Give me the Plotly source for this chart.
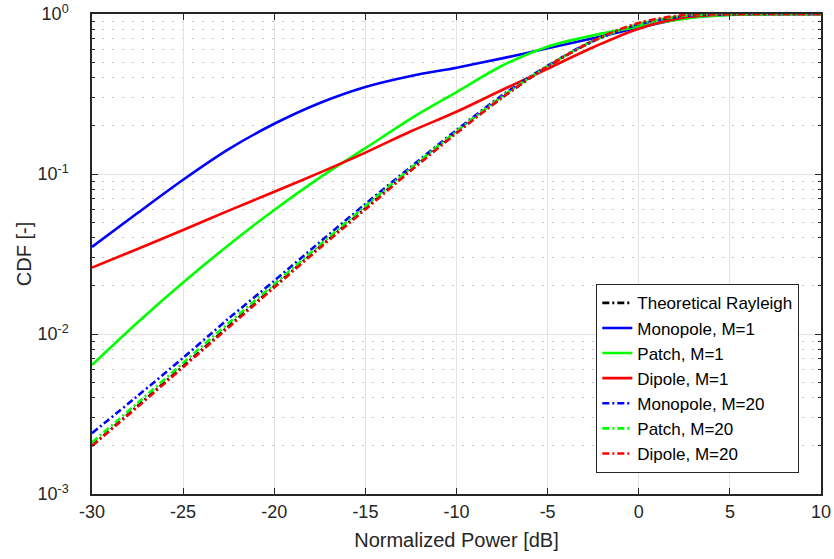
import plotly.graph_objects as go

x_db = [-30, -27.5, -25, -22.5, -20, -17.5, -15, -12.5, -10, -7.5, -5, -2.5, 0, 2.5, 5, 7.5, 10]

theory = [0.0020, 0.00355, 0.0063, 0.0112, 0.0198, 0.035, 0.061, 0.106, 0.181, 0.30, 0.469, 0.675, 0.865, 0.972, 0.998, 1.0, 1.0]
mono1 = [0.035, 0.057, 0.092, 0.143, 0.206, 0.278, 0.35, 0.41, 0.462, 0.528, 0.61, 0.705, 0.82, 0.94, 0.99, 1.0, 1.0]
patch1 = [0.0064, 0.0118, 0.021, 0.036, 0.0596, 0.095, 0.145, 0.222, 0.325, 0.475, 0.625, 0.735, 0.835, 0.935, 0.985, 0.997, 1.0]
dipole1 = [0.026, 0.034, 0.0447, 0.059, 0.0775, 0.102, 0.136, 0.185, 0.245, 0.335, 0.455, 0.62, 0.81, 0.95, 0.995, 1.0, 1.0]
mono20 = [0.0024, 0.0041, 0.0071, 0.0125, 0.0215, 0.0375, 0.065, 0.111, 0.188, 0.31, 0.475, 0.68, 0.86, 0.97, 0.997, 1.0, 1.0]
patch20 = [0.0021, 0.0037, 0.0066, 0.0117, 0.0205, 0.036, 0.063, 0.109, 0.185, 0.305, 0.472, 0.678, 0.865, 0.975, 0.998, 1.0, 1.0]
dipole20 = [0.0020, 0.0035, 0.0062, 0.0110, 0.0195, 0.0345, 0.060, 0.105, 0.180, 0.30, 0.47, 0.68, 0.88, 0.985, 0.999, 1.0, 1.0]

x_ticks = [-30, -25, -20, -15, -10, -5, 0, 5, 10]
x_tick_text = ["-30", "-25", "-20", "-15", "-10", "-5", "0", "5", "10"]
y_ticks = [1e-3, 1e-2, 1e-1, 1]
y_tick_text = ["10<sup>-3</sup>", "10<sup>-2</sup>", "10<sup>-1</sup>", "10<sup>0</sup>"]
y_minor = [m * 10 ** e for e in (-3, -2, -1) for m in range(2, 10)]

dd = "7px,3px,2px,3px"
series = [
    ("Theoretical Rayleigh", theory, "black", dd),
    ("Monopole, M=1", mono1, "rgb(0,0,255)", "solid"),
    ("Patch, M=1", patch1, "rgb(0,255,0)", "solid"),
    ("Dipole, M=1", dipole1, "rgb(255,0,0)", "solid"),
    ("Monopole, M=20", mono20, "rgb(0,0,255)", dd),
    ("Patch, M=20", patch20, "rgb(0,255,0)", dd),
    ("Dipole, M=20", dipole20, "rgb(255,0,0)", dd),
]

fig = go.Figure()
for name, vals, col, dash in series:
    fig.add_trace(go.Scatter(x=x_db, y=vals, name=name, mode="lines",
                             line=dict(color=col, width=2.6, dash=dash, shape="spline", smoothing=0.9)))

font = "Liberation Sans, Arial, Helvetica, sans-serif"
fig.update_layout(
    width=834, height=559,
    margin=dict(l=92, r=13, t=14, b=65, autoexpand=False),
    paper_bgcolor="white", plot_bgcolor="white",
    font=dict(family=font, size=18, color="#262626"),
    showlegend=True,
    legend=dict(x=(799 - 92) / 729, y=(494 - 473) / 480, xanchor="right", yanchor="bottom",
                bgcolor="white", bordercolor="#262626", borderwidth=1.3,
                font=dict(size=17, color="#000000"), tracegroupgap=0),
    xaxis=dict(range=[-30, 10], tickvals=x_ticks, ticktext=x_tick_text, ticks="inside", ticklen=6, tickcolor="#262626",
               showline=True, linecolor="#262626", linewidth=1.5, mirror="ticks",
               showgrid=True, gridcolor="#e3e3e3", gridwidth=1, zeroline=False,
               ticklabelstandoff=1,
               title=dict(text="Normalized Power [dB]", font=dict(size=20), standoff=12),
               tickfont=dict(size=18)),
    yaxis=dict(type="log", range=[-3, 0], tickvals=y_ticks, ticktext=y_tick_text,
               ticks="inside", ticklen=6, tickcolor="#262626",
               showline=True, linecolor="#262626", linewidth=1.5, mirror="ticks",
               showgrid=True, gridcolor="#e3e3e3", gridwidth=1, zeroline=False,
               ticklabelstandoff=18,
               minor=dict(tickmode="array", tickvals=y_minor, ticks="inside", ticklen=3,
                          tickcolor="#262626", showgrid=True, gridcolor="#c4c4c4", griddash="2px,8px", gridwidth=1),
               title=dict(text="CDF [-]", font=dict(size=20), standoff=0),
               tickfont=dict(size=18)),
)
fig.write_html("out.html", config={"displayModeBar": False},
               post_script="document.body.style.margin='0';document.body.style.padding='0';")
